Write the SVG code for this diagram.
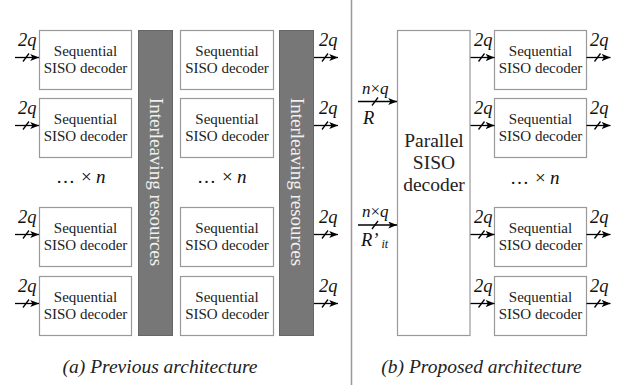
<svg xmlns="http://www.w3.org/2000/svg" width="623" height="385" viewBox="0 0 623 385" font-family="'Liberation Serif', 'Times New Roman', Times, 'DejaVu Serif', serif">
  <defs>
    <marker id="head" viewBox="0 0 10 8" refX="10" refY="4" markerWidth="9" markerHeight="7" markerUnits="userSpaceOnUse" orient="auto">
      <path d="M0,0 L10,4 L0,8 L2.5,4 Z" fill="#000"/>
    </marker>
    <!-- bus: arrow with a width slash across it -->
    <g id="bus">
      <line x1="0" y1="0" x2="24" y2="0" class="wire" marker-end="url(#head)"/>
      <line x1="8" y1="4" x2="14" y2="-4" class="wire"/>
    </g>
  </defs>
  <style>
    text { font-family: 'Liberation Serif', 'Times New Roman', Times, 'DejaVu Serif', serif; }
    .box { fill: #fff; stroke: #999; stroke-width: 1.2; }
    .bar { fill: #777; stroke: #666; stroke-width: 1; }
    .wire { stroke: #000; stroke-width: 1.3; fill: none; }
    .lbl { font-size: 15px; fill: #222; text-anchor: middle; }
    .big { font-size: 19.5px; fill: #222; text-anchor: middle; }
    .bartxt { font-size: 19px; fill: #f0f0f0; text-anchor: middle; }
    .math { font-size: 18.5px; font-style: italic; fill: #111; }
    .dots { font-size: 19px; fill: #111; }
    .cap { font-size: 19.5px; font-style: italic; fill: #222; text-anchor: middle; }
  </style>

  <rect width="623" height="385" fill="#fff"/>

  <!-- divider between the two architectures -->
  <line x1="351.5" y1="0" x2="351.5" y2="385" stroke="#999" stroke-width="1.5"/>

  <!-- (a) previous architecture -->
  <g id="dec-a1"><rect class="box" x="39.5" y="30.5" width="92" height="59"/><text class="lbl" x="85.5" y="56">Sequential</text><text class="lbl" x="85.5" y="73">SISO decoder</text></g>
  <g id="dec-a2"><rect class="box" x="39.5" y="98.5" width="92" height="59"/><text class="lbl" x="85.5" y="124">Sequential</text><text class="lbl" x="85.5" y="141">SISO decoder</text></g>
  <g id="dec-a3"><rect class="box" x="39.5" y="207.5" width="92" height="59"/><text class="lbl" x="85.5" y="233">Sequential</text><text class="lbl" x="85.5" y="250">SISO decoder</text></g>
  <g id="dec-a4"><rect class="box" x="39.5" y="276.5" width="92" height="59"/><text class="lbl" x="85.5" y="302">Sequential</text><text class="lbl" x="85.5" y="319">SISO decoder</text></g>

  <g id="ilv-1"><rect class="bar" x="138.5" y="30.5" width="34" height="305"/><text class="bartxt" transform="translate(149.5,182) rotate(90)">Interleaving resources</text></g>

  <g id="dec-b1"><rect class="box" x="180.5" y="30.5" width="93" height="59"/><text class="lbl" x="227" y="56">Sequential</text><text class="lbl" x="227" y="73">SISO decoder</text></g>
  <g id="dec-b2"><rect class="box" x="180.5" y="98.5" width="93" height="59"/><text class="lbl" x="227" y="124">Sequential</text><text class="lbl" x="227" y="141">SISO decoder</text></g>
  <g id="dec-b3"><rect class="box" x="180.5" y="207.5" width="93" height="59"/><text class="lbl" x="227" y="233">Sequential</text><text class="lbl" x="227" y="250">SISO decoder</text></g>
  <g id="dec-b4"><rect class="box" x="180.5" y="276.5" width="93" height="59"/><text class="lbl" x="227" y="302">Sequential</text><text class="lbl" x="227" y="319">SISO decoder</text></g>

  <g id="ilv-2"><rect class="bar" x="279.5" y="30.5" width="34" height="305"/><text class="bartxt" transform="translate(290.5,182) rotate(90)">Interleaving resources</text></g>

  <g id="rep-a1"><text class="dots" x="56" y="183">…</text><text class="dots" x="81" y="183">×</text><text class="dots" x="96" y="183" font-style="italic">n</text></g>
  <g id="rep-a2"><text class="dots" x="197" y="183">…</text><text class="dots" x="222" y="183">×</text><text class="dots" x="237" y="183" font-style="italic">n</text></g>

  <!-- (b) proposed architecture -->
  <g id="par-dec"><rect class="box" x="397.5" y="30.5" width="72.5" height="305"/><text class="big" x="434" y="147">Parallel</text><text class="big" x="434" y="169">SISO</text><text class="big" x="434" y="191">decoder</text></g>

  <g id="dec-c1"><rect class="box" x="494.5" y="30.5" width="92" height="59"/><text class="lbl" x="540.5" y="56">Sequential</text><text class="lbl" x="540.5" y="73">SISO decoder</text></g>
  <g id="dec-c2"><rect class="box" x="494.5" y="98.5" width="92" height="59"/><text class="lbl" x="540.5" y="124">Sequential</text><text class="lbl" x="540.5" y="141">SISO decoder</text></g>
  <g id="dec-c3"><rect class="box" x="494.5" y="207.5" width="92" height="59"/><text class="lbl" x="540.5" y="233">Sequential</text><text class="lbl" x="540.5" y="250">SISO decoder</text></g>
  <g id="dec-c4"><rect class="box" x="494.5" y="276.5" width="92" height="59"/><text class="lbl" x="540.5" y="302">Sequential</text><text class="lbl" x="540.5" y="319">SISO decoder</text></g>

  <g id="rep-c"><text class="dots" x="510" y="184">…</text><text class="dots" x="535" y="184">×</text><text class="dots" x="550" y="184" font-style="italic">n</text></g>

  <!-- buses and their width labels -->
  <g id="connectors">
    <!-- inputs of the left decoders -->
    <use href="#bus" x="15" y="57.5"/><use href="#bus" x="15" y="125.5"/><use href="#bus" x="15" y="234.5"/><use href="#bus" x="15" y="303.5"/>
    <!-- outputs of the second interleaver -->
    <use href="#bus" x="314" y="57.5"/><use href="#bus" x="314" y="125.5"/><use href="#bus" x="314" y="234.5"/><use href="#bus" x="314" y="303.5"/>
    <!-- parallel decoder to sequential decoders -->
    <use href="#bus" x="470.5" y="57.5"/><use href="#bus" x="470.5" y="125.5"/><use href="#bus" x="470.5" y="234.5"/><use href="#bus" x="470.5" y="303.5"/>
    <!-- outputs of the right decoders -->
    <use href="#bus" x="586.5" y="57.5"/><use href="#bus" x="586.5" y="125.5"/><use href="#bus" x="586.5" y="234.5"/><use href="#bus" x="586.5" y="303.5"/>
    <!-- inputs of the parallel decoder -->
    <line class="wire" x1="358" y1="101.5" x2="397" y2="101.5" marker-end="url(#head)"/>
    <line class="wire" x1="372" y1="105.5" x2="378" y2="97.5"/>
    <line class="wire" x1="358" y1="225" x2="397" y2="225" marker-end="url(#head)"/>
    <line class="wire" x1="372" y1="229" x2="378" y2="221"/>

    <g class="math">
      <text x="18" y="46">2q</text><text x="18" y="114">2q</text><text x="18" y="223">2q</text><text x="18" y="292">2q</text>
      <text x="319" y="46">2q</text><text x="319" y="114">2q</text><text x="319" y="223">2q</text><text x="319" y="292">2q</text>
      <text x="474" y="46">2q</text><text x="474" y="114">2q</text><text x="474" y="223">2q</text><text x="474" y="292">2q</text>
      <text x="590" y="46">2q</text><text x="590" y="114">2q</text><text x="590" y="223">2q</text><text x="590" y="292">2q</text>
      <text x="362" y="94" font-size="17">n<tspan font-style="normal">×</tspan>q</text>
      <text x="363" y="124">R</text>
      <text x="362" y="217" font-size="17">n<tspan font-style="normal">×</tspan>q</text>
      <text x="361" y="246">R’<tspan font-size="12" dx="3" dy="2">it</tspan></text>
    </g>
  </g>

  <text class="cap" x="160" y="373">(a) Previous architecture</text>
  <text class="cap" x="481.5" y="373">(b) Proposed architecture</text>
</svg>
